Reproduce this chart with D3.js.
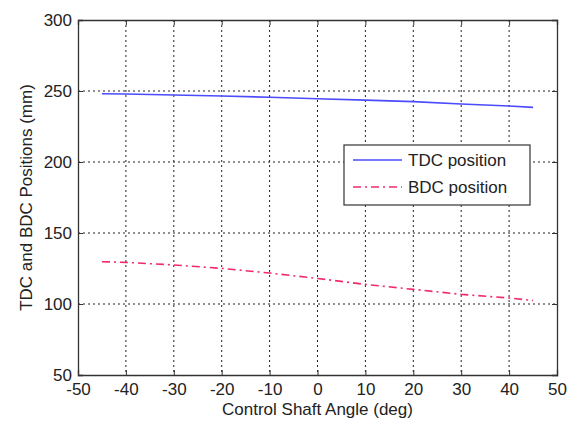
<!DOCTYPE html>
<html>
<head>
<meta charset="utf-8">
<script src="https://cdn.jsdelivr.net/npm/d3@7"></script>
<style>
  html, body { margin: 0; padding: 0; background: #fff; }
  svg { display: block; font-family: Arial, "Liberation Sans", sans-serif; }
</style>
</head>
<body>
<svg id="chart" width="571" height="421"></svg>
<script>
// Control shaft angle (deg) and piston dead-centre positions (mm)
const angles = [-45, -40, -30, -20, -10, 0, 10, 20, 30, 40, 45];
const tdcPosition = [248.1, 247.9, 247.2, 246.5, 245.6, 244.5, 243.6, 242.5, 240.8, 239.4, 238.5];
const bdcPosition = [129.8, 129.3, 127.5, 125.1, 121.8, 118.0, 113.8, 110.3, 106.8, 104.2, 102.5];
const xTicks = [-50, -40, -30, -20, -10, 0, 10, 20, 30, 40, 50];
const yTicks = [50, 100, 150, 200, 250, 300];
const seriesNames = ["TDC position", "BDC position"];

const svg = d3.select("#chart");
const plotLeft = 78, plotRight = 557, plotTop = 20, plotBottom = 375;

const x = d3.scaleLinear().domain([-50, 50]).range([plotLeft, plotRight]);
const y = d3.scaleLinear().domain([50, 300]).range([plotBottom, plotTop]);

const ink = "#333";
const plain = d => String(d);   // hyphen-minus, as MATLAB prints it

// dotted grid
const grid = svg.append("g").attr("stroke", "#222").attr("stroke-width", 1)
  .attr("stroke-dasharray", "2,3");
grid.selectAll("line.vx").data(xTicks.slice(1, -1)).join("line")
  .attr("x1", d => x(d)).attr("x2", d => x(d)).attr("y1", plotTop).attr("y2", plotBottom);
grid.selectAll("line.hy").data(yTicks.slice(1, -1)).join("line")
  .attr("x1", plotLeft).attr("x2", plotRight).attr("y1", d => y(d)).attr("y2", d => y(d));

// axes with inward ticks on all four sides
const fs = "17px";
const ax = svg.append("g").attr("transform", `translate(0,${plotBottom})`)
  .call(d3.axisBottom(x).tickValues(xTicks).tickSize(-5).tickPadding(8).tickFormat(plain));
const axTop = svg.append("g").attr("transform", `translate(0,${plotTop})`)
  .call(d3.axisTop(x).tickValues(xTicks).tickSize(-5).tickFormat(""));
const ay = svg.append("g").attr("transform", `translate(${plotLeft},0)`)
  .call(d3.axisLeft(y).tickValues(yTicks).tickSize(-5).tickPadding(6).tickFormat(plain));
const ayR = svg.append("g").attr("transform", `translate(${plotRight},0)`)
  .call(d3.axisRight(y).tickValues(yTicks).tickSize(-5).tickFormat(""));
[ax, axTop, ay, ayR].forEach(g => {
  g.selectAll(".domain").attr("stroke", ink).attr("stroke-width", 1.3);
  g.selectAll(".tick line").attr("stroke", ink);
  g.selectAll("text").attr("fill", "#222").style("font-size", fs)
    .style("font-family", "Arial, 'Liberation Sans', sans-serif");
});

// series lines
const line = d3.line().x((d, i) => x(angles[i])).y(d => y(d));
svg.append("path").datum(tdcPosition).attr("d", line)
  .attr("fill", "none").attr("stroke", "#4b4bff").attr("stroke-width", 1.6);
svg.append("path").datum(bdcPosition).attr("d", line)
  .attr("fill", "none").attr("stroke", "#f02c68").attr("stroke-width", 1.6)
  .attr("stroke-dasharray", "8,4,2,4");

// axis titles
svg.append("text").attr("x", (plotLeft + plotRight) / 2).attr("y", 415)
  .attr("text-anchor", "middle").style("font-size", fs).attr("fill", "#222")
  .text("Control Shaft Angle (deg)");
svg.append("text").attr("transform", `translate(32,${(plotTop + plotBottom) / 2}) rotate(-90)`)
  .attr("text-anchor", "middle").style("font-size", fs).attr("fill", "#222")
  .text("TDC and BDC Positions (mm)");

// legend
const lg = svg.append("g");
lg.append("rect").attr("x", 344).attr("y", 145).attr("width", 186).attr("height", 60)
  .attr("fill", "#fff").attr("stroke", ink).attr("stroke-width", 1.2);
const legendStyles = [
  { color: "#4b4bff", dash: null },
  { color: "#f02c68", dash: "8,4,2,4" }
];
seriesNames.forEach((name, i) => {
  const ly = 160 + i * 27;
  lg.append("line").attr("x1", 353).attr("x2", 402).attr("y1", ly).attr("y2", ly)
    .attr("stroke", legendStyles[i].color).attr("stroke-width", 1.6)
    .attr("stroke-dasharray", legendStyles[i].dash);
  lg.append("text").attr("x", 408).attr("y", ly).attr("dy", "0.35em")
    .style("font-size", fs).attr("fill", "#222").text(name);
});
</script>
</body>
</html>
